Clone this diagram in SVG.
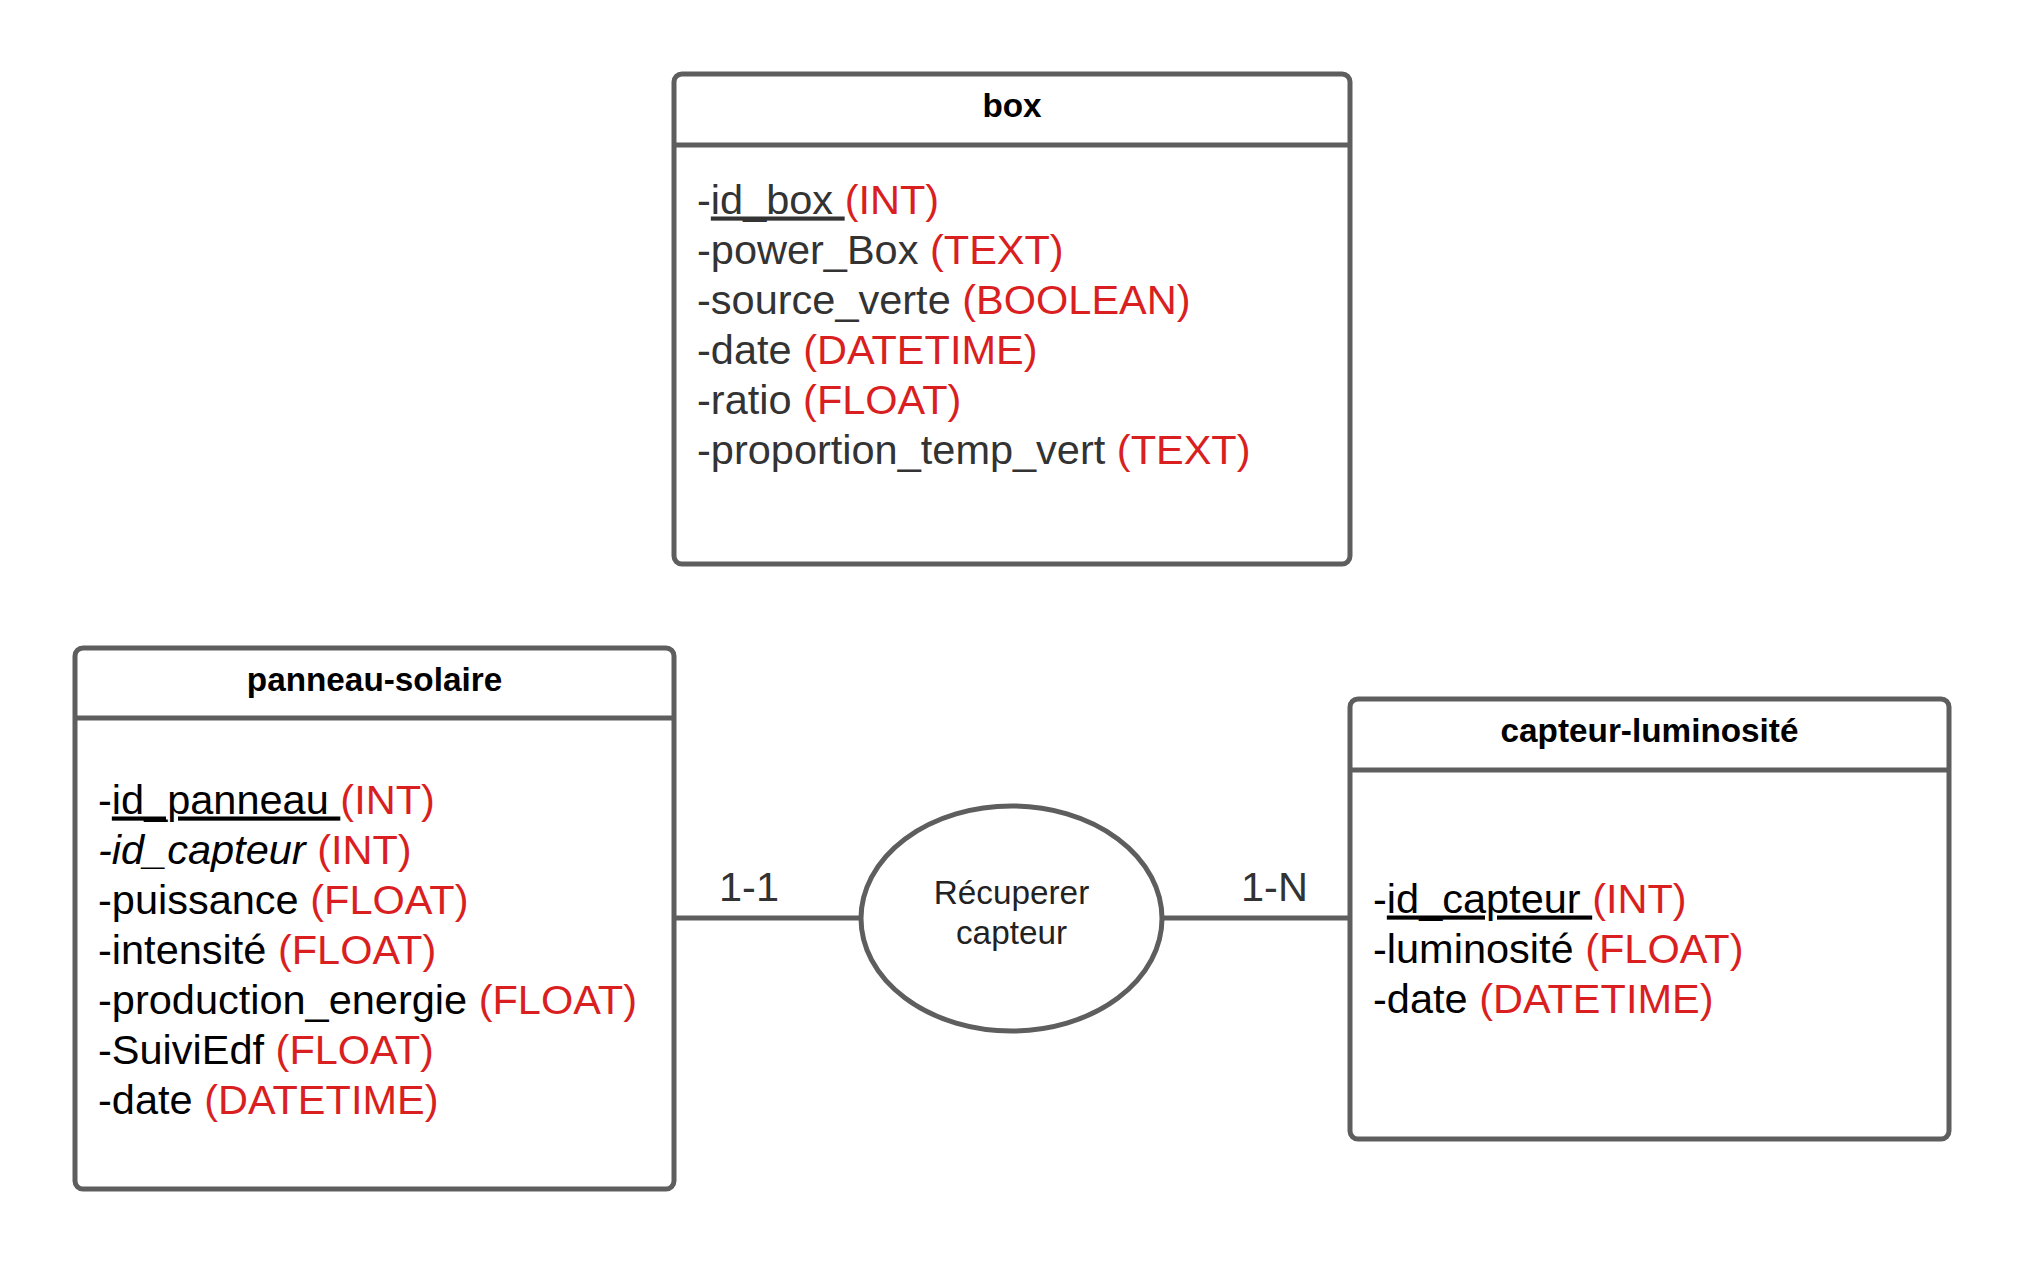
<svg xmlns="http://www.w3.org/2000/svg" width="2025" height="1266" viewBox="0 0 2025 1266">
<style>
.frame{fill:#fff;stroke:#5e5e5e;stroke-width:5}
.sep{stroke:#5e5e5e;stroke-width:5}
.title{font-family:"Liberation Sans",Arial,sans-serif;font-weight:bold;font-size:33.3px;fill:#000;text-anchor:middle}
.attr{font-family:"Liberation Sans",Arial,sans-serif;font-size:41.5px;fill:#000}
.gray{fill:#333}
.t{fill:#d91f1f}
.u{text-decoration:underline}
.i{font-style:italic}
.lbl{font-family:"Liberation Sans",Arial,sans-serif;font-size:41.5px;fill:#333}
.rel{font-family:"Liberation Sans",Arial,sans-serif;font-size:33.3px;fill:#222;text-anchor:middle}
.conn{stroke:#5e5e5e;stroke-width:5;fill:none}
</style>
<rect width="2025" height="1266" fill="#fff"/>
<g id="connectors">
<line class="conn" x1="674" y1="918" x2="861" y2="918"/>
<line class="conn" x1="1162" y1="918" x2="1350" y2="918"/>
<text class="lbl" x="719" y="901">1-1</text>
<text class="lbl" x="1241" y="901">1-N</text>
</g>
<g id="box">
<rect class="frame" x="674" y="74" width="676" height="490" rx="8"/>
<line class="sep" x1="674" y1="145" x2="1350" y2="145"/>
<text class="title" x="1012" y="117">box</text>
<g class="attr gray">
<text x="697" y="213.5">-<tspan class="u">id_box </tspan><tspan class="t">(INT)</tspan></text>
<text x="697" y="263.5">-power_Box <tspan class="t">(TEXT)</tspan></text>
<text x="697" y="313.5">-source_verte <tspan class="t">(BOOLEAN)</tspan></text>
<text x="697" y="363.5">-date <tspan class="t">(DATETIME)</tspan></text>
<text x="697" y="413.5">-ratio <tspan class="t">(FLOAT)</tspan></text>
<text x="697" y="463.5">-proportion_temp_vert <tspan class="t">(TEXT)</tspan></text>
</g>
</g>
<g id="panneau-solaire">
<rect class="frame" x="75" y="648" width="599" height="541" rx="8"/>
<line class="sep" x1="75" y1="718" x2="674" y2="718"/>
<text class="title" x="374.5" y="691">panneau-solaire</text>
<g class="attr">
<text x="98" y="813.5">-<tspan class="u">id_panneau </tspan><tspan class="t">(INT)</tspan></text>
<text x="98" y="863.5"><tspan class="i">-id_capteur</tspan> <tspan class="t">(INT)</tspan></text>
<text x="98" y="913.5">-puissance <tspan class="t">(FLOAT)</tspan></text>
<text x="98" y="963.5">-intensité <tspan class="t">(FLOAT)</tspan></text>
<text x="98" y="1013.5">-production_energie <tspan class="t">(FLOAT)</tspan></text>
<text x="98" y="1063.5">-SuiviEdf <tspan class="t">(FLOAT)</tspan></text>
<text x="98" y="1113.5">-date <tspan class="t">(DATETIME)</tspan></text>
</g>
</g>
<g id="recuperer-capteur">
<ellipse class="frame" cx="1011.5" cy="918.5" rx="150.5" ry="112.5"/>
<text class="rel" x="1011.5" y="904">Récuperer</text>
<text class="rel" x="1011.5" y="944">capteur</text>
</g>
<g id="capteur-luminosite">
<rect class="frame" x="1350" y="699" width="599" height="440" rx="8"/>
<line class="sep" x1="1350" y1="770" x2="1949" y2="770"/>
<text class="title" x="1649.5" y="742">capteur-luminosité</text>
<g class="attr">
<text x="1373" y="912.5">-<tspan class="u">id_capteur </tspan><tspan class="t">(INT)</tspan></text>
<text x="1373" y="962.5">-luminosité <tspan class="t">(FLOAT)</tspan></text>
<text x="1373" y="1012.5">-date <tspan class="t">(DATETIME)</tspan></text>
</g>
</g>
</svg>
